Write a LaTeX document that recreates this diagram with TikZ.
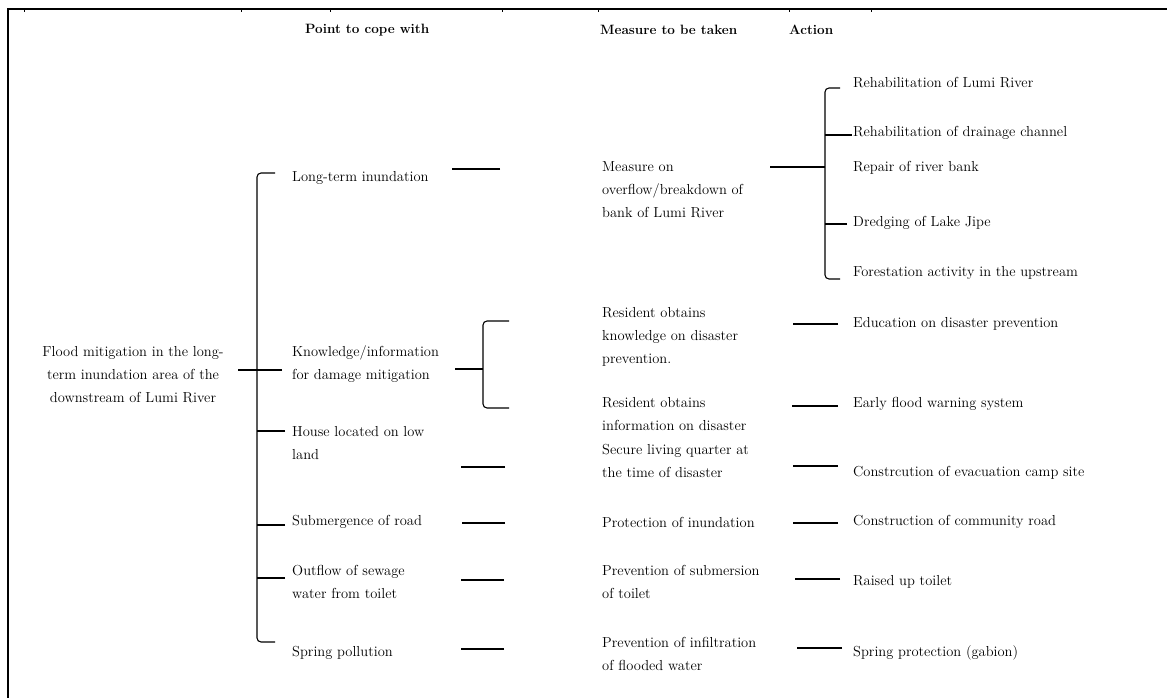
\documentclass[tikz,border=0pt]{standalone}
\usepackage{amsmath,amssymb}
\usepackage{tikz}
\usepackage{xcolor}

\begin{document}
\begin{tikzpicture}[x=1pt,y=-1pt,
  txt/.style={anchor=west,inner sep=0pt,align=left,font=\fontsize{14.5}{23}\selectfont},
  head/.style={anchor=west,inner sep=0pt,font=\fontsize{13.5}{16}\selectfont\bfseries},
  lnk/.style={line width=1.1pt},
  brk/.style={line width=1.1pt,rounded corners=4pt}]
\useasboundingbox (0,0) rectangle (1167,698);
% frame
\draw[line width=2.4pt] (8,698) -- (8,9) -- (1167,9);
\foreach \tx in {24,241,330,502,598,789,871}
  \draw[line width=0.8pt] (\tx,9) -- (\tx,12.5);
% headings
\node[head] (hp) at (305,30) {Point to cope with};
\node[head] (hm) at (600,30) {Measure to be taken};
\node[head] (ha) at (789,30) {Action};
% goal
\node[txt,align=center,anchor=center] (goal) at (133,375) {Flood mitigation in the long-\\term inundation area of the\\downstream of Lumi River};
% points to cope with
\node[txt] (p1) at (292,178) {Long-term inundation};
\node[txt] (p2) at (292,364.5) {Knowledge/information\\for damage mitigation};
\node[txt] (p3) at (292,443.5) {House located on low\\land};
\node[txt] (p4) at (292,522) {Submergence of road};
\node[txt] (p5) at (292,581.5) {Outflow of sewage\\water from toilet};
\node[txt] (p6) at (292,653) {Spring pollution};
% measures
\node[txt] (m1) at (602,189.5) {Measure on\\overflow/breakdown of\\bank of Lumi River};
\node[txt] (m2) at (602,336.5) {Resident obtains\\knowledge on disaster\\prevention.};
\node[txt] (m3) at (602,414) {Resident obtains\\information on disaster};
\node[txt] (m4) at (602,460.5) {Secure living quarter at\\the time of disaster};
\node[txt] (m5) at (602,522) {Protection of inundation};
\node[txt] (m6) at (602,581.5) {Prevention of submersion\\of toilet};
\node[txt] (m7) at (602,653.5) {Prevention of infiltration\\of flooded water};
% actions
\node[txt] (a1) at (853,83) {Rehabilitation of Lumi River};
\node[txt] (a2) at (853,133) {Rehabilitation of drainage channel};
\node[txt] (a3) at (853,168) {Repair of river bank};
\node[txt] (a4) at (853,223) {Dredging of Lake Jipe};
\node[txt] (a5) at (853,273) {Forestation activity in the upstream};
\node[txt] (a6) at (853,324) {Education on disaster prevention};
\node[txt] (a7) at (853,404) {Early flood warning system};
\node[txt] (a8) at (853,473) {Constrcution of evacuation camp site};
\node[txt] (a9) at (853,522) {Construction of community road};
\node[txt] (a10) at (853,582) {Raised up toilet};
\node[txt] (a11) at (853,653) {Spring protection (gabion)};
% goal to points
\draw[lnk] ([shift={(-10,5.5)}]p2.west) -- ++(-44,0);
\draw[brk] ([shift={(-17,-5)}]p1.west) -- ++(-18,0) |- ([shift={(-17,-11)}]p6.west);
\draw[lnk] ([shift={(-7,-12.5)}]p3.west) -- ++(-28,0);
\draw[lnk] ([shift={(-7,3)}]p4.west) -- ++(-28,0);
\draw[lnk] ([shift={(-7,-3.5)}]p5.west) -- ++(-28,0);
% points to measures
\draw[lnk] ([shift={(-102,-20.5)}]m1.west) -- ++(-48,0);
\draw[lnk] ([shift={(163,4.5)}]p2.west) -- ++(28,0);
\draw[brk] ([shift={(-93,-15.5)}]m2.west) -- ++(-26,0) |- ([shift={(-93,-6)}]m3.west);
\draw[lnk] ([shift={(-97,6.5)}]m4.west) -- ++(-44,0);
\draw[lnk] ([shift={(-97,1)}]m5.west) -- ++(-43,0);
\draw[lnk] ([shift={(-98,-1.5)}]m6.west) -- ++(-43,0);
\draw[lnk] ([shift={(-98,-4.5)}]m7.west) -- ++(-43,0);
% measures to actions
\draw[lnk] ([shift={(-28,-1)}]a3.west) -- ++(-55,0);
\draw[brk] ([shift={(-13,5)}]a1.west) -- ++(-15,0) |- ([shift={(-13,6)}]a5.west);
\draw[lnk] ([shift={(-1,2)}]a2.west) -- ++(-27,0);
\draw[lnk] ([shift={(-6,1)}]a4.west) -- ++(-22,0);
\draw[lnk] ([shift={(-15,0)}]a6.west) -- ++(-45,0);
\draw[lnk] ([shift={(-15,2)}]a7.west) -- ++(-46,0);
\draw[lnk] ([shift={(-15,-7)}]a8.west) -- ++(-45,0);
\draw[lnk] ([shift={(-15,1)}]a9.west) -- ++(-45,0);
\draw[lnk] ([shift={(-13,-3)}]a10.west) -- ++(-45,0);
\draw[lnk] ([shift={(-11,-5)}]a11.west) -- ++(-45,0);
\end{tikzpicture}
\end{document}
